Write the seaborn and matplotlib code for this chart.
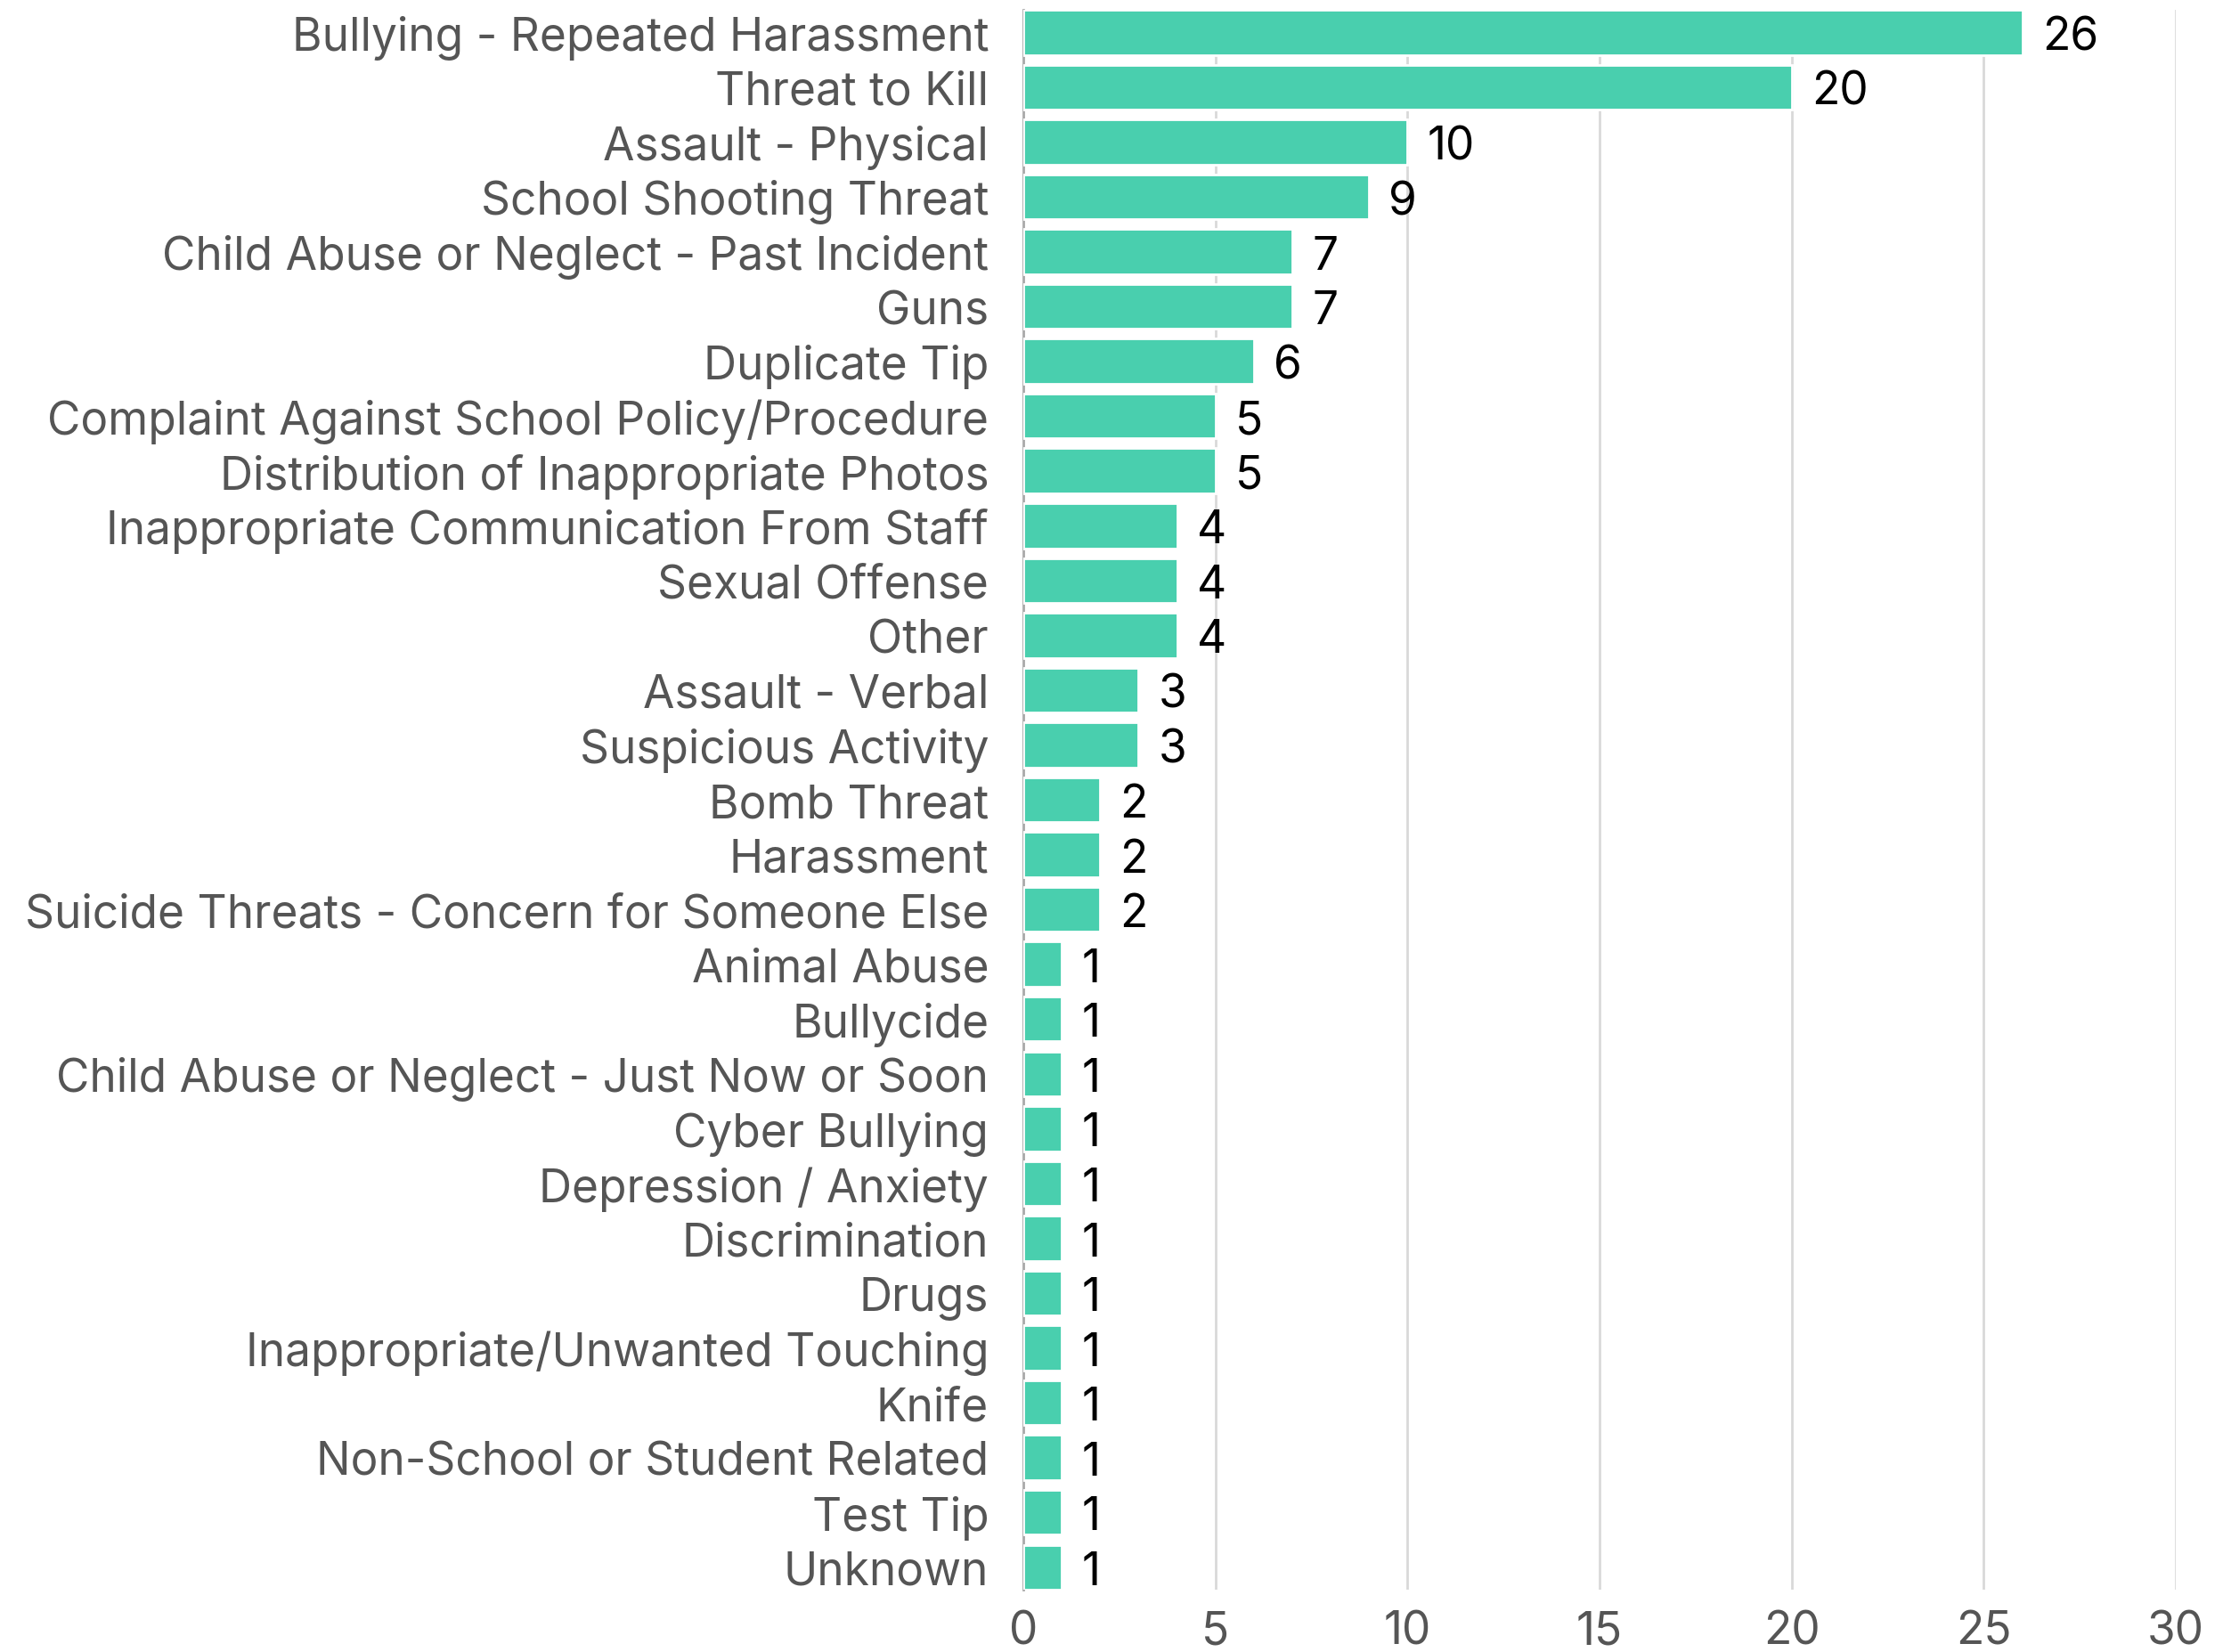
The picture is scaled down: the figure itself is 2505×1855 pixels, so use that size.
import matplotlib
matplotlib.use("Agg")
import matplotlib.pyplot as plt
import seaborn as sns
import pandas as pd

categories = [
    "Bullying - Repeated Harassment", "Threat to Kill", "Assault - Physical",
    "School Shooting Threat", "Child Abuse or Neglect - Past Incident", "Guns",
    "Duplicate Tip", "Complaint Against School Policy/Procedure",
    "Distribution of Inappropriate Photos", "Inappropriate Communication From Staff",
    "Sexual Offense", "Other", "Assault - Verbal", "Suspicious Activity",
    "Bomb Threat", "Harassment", "Suicide Threats - Concern for Someone Else",
    "Animal Abuse", "Bullycide", "Child Abuse or Neglect - Just Now or Soon",
    "Cyber Bullying", "Depression / Anxiety", "Discrimination", "Drugs",
    "Inappropriate/Unwanted Touching", "Knife", "Non-School or Student Related",
    "Test Tip", "Unknown",
]
counts = [26, 20, 10, 9, 7, 7, 6, 5, 5, 4, 4, 4, 3, 3, 2, 2, 2,
          1, 1, 1, 1, 1, 1, 1, 1, 1, 1, 1, 1]
x_ticks = [0, 5, 10, 15, 20, 25, 30]

df = pd.DataFrame({"category": categories, "count": counts})

sns.set_theme(style="white")
plt.rcParams["font.family"] = ["Inter", "DejaVu Sans"]

fig = plt.figure(figsize=(12.525, 9.28), dpi=200)
ax = fig.add_axes([0.4587, 0.0377, 0.9753 - 0.4587, 0.9935 - 0.0377])

sns.barplot(data=df, y="category", x="count", color="#49CFAE", width=0.82,
            saturation=1, ax=ax, zorder=3)

ax.set_xlim(0, 30)
ax.set_ylim(len(categories) - 1 + 0.41, -0.41)
ax.set_xticks(x_ticks)
ax.xaxis.grid(True, color="#d9d9d9", linewidth=1.0, zorder=0)
ax.set_axisbelow(True)
ax.set_xlabel("")
ax.set_ylabel("")
for s in ["top", "right", "bottom"]:
    ax.spines[s].set_visible(False)
ax.spines["left"].set_color("#aaaaaa")
ax.spines["left"].set_linewidth(1.0)
ax.tick_params(axis="y", length=0, pad=14, labelsize=18.5, labelcolor="#555555")
ax.tick_params(axis="x", length=0, pad=8, labelsize=18.5, labelcolor="#555555")

for i, v in enumerate(counts):
    ax.annotate(str(v), xy=(v, i), xytext=(8, -2), textcoords="offset points",
                ha="left", va="center", fontsize=18.5, color="black")

fig.savefig("out.png", dpi=200)
